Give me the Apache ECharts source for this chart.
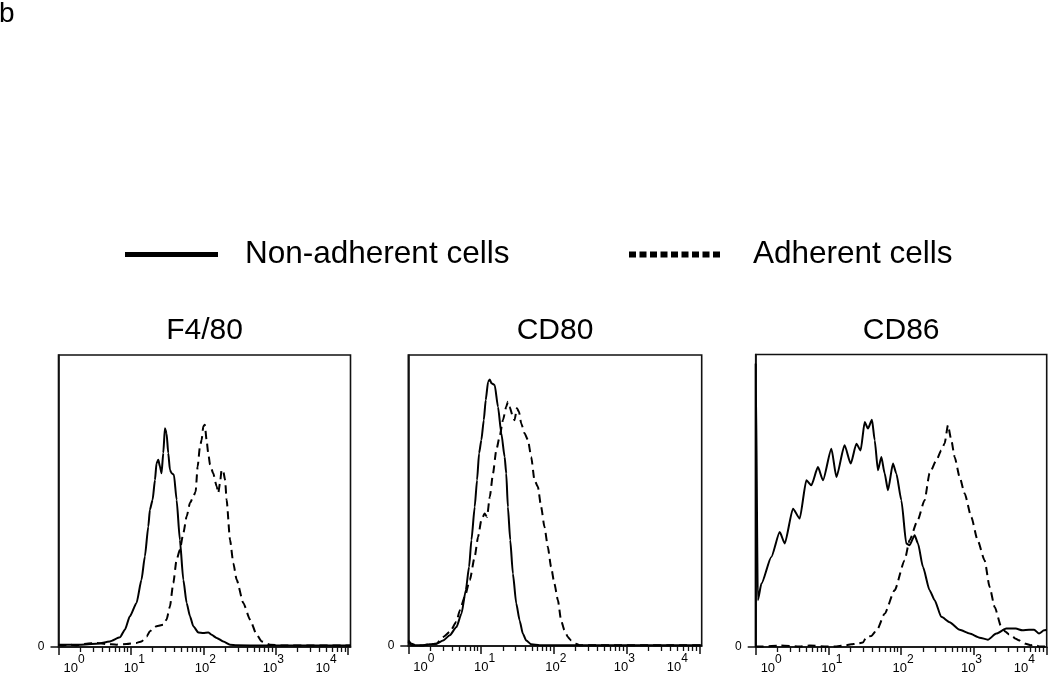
<!DOCTYPE html>
<html><head><meta charset="utf-8">
<script src="https://cdn.jsdelivr.net/npm/echarts@6/dist/echarts.min.js"></script>
<style>html,body{margin:0;padding:0;background:#fff}#c{width:1050px;height:678px}</style>
</head><body><div id="c"></div>
<script>
const PANEL_TITLES = ['F4/80', 'CD80', 'CD86'];
const SERIES_NAMES = ['Non-adherent cells', 'Adherent cells'];
const FIGURE_LABEL = 'b';
const MAJOR_TICKS = [1, 10, 100, 1000, 10000];
const MINOR_TICKS = [2,3,4,5,6,7,8,9,20,30,40,50,60,70,80,90,200,300,400,500,600,700,800,900,2000,3000,4000,5000,6000,7000,8000,9000];
const Y_TICKS = [0];
const X_MAX = [10800, 10800, 10100];

const F480_NON = [[1,0.8],[1.97,0.8],[3.35,1.1],[5.13,1.9],[7.05,3.3],[8.26,5.9],[9.68,10.5],[11.97,15.1],[14.0,23],[15.6,31],[17.4,41.3],[18.3,47],[19.95,50.4],[21.5,57.2],[22.6,62.9],[23.9,64.1],[25.2,61.8],[26.5,59.5],[28.0,66.4],[29.5,74.9],[31.1,73.2],[32.8,66.4],[34.6,60.7],[36.5,59.5],[39.3,59],[42.8,50.4],[47.5,36.7],[53.0,23],[58.9,15.1],[65.5,10.5],[72.8,7.1],[85.3,5],[100,4.8],[117,5],[130,4.2],[153,3.1],[189,1.9],[234,0.8],[289,0.6],[676,0.5],[10800,0.5]];
const F480_ADH = [[1,0.8],[1.16,0.5],[1.44,0.8],[1.77,0.5],[2.44,1.1],[3.35,1.4],[4.61,1.0],[6.34,0.8],[8.71,1.0],[11.97,1.4],[14.0,1.9],[16.5,3.6],[18.3,5.4],[22.6,7.1],[28.0,7.6],[31.1,9.4],[34.6,13.9],[38.5,21.9],[42.8,29.9],[47.5,33.3],[53.0,39.0],[58.9,44.7],[65.5,49.3],[72.8,51.5],[78.3,53.2],[83.6,61.8],[89.9,68.6],[94.8,70.9],[100,75.5],[105,76.1],[111,70.9],[117,66.4],[124,62.4],[137,59.5],[153,55.0],[161,52.7],[170,56.1],[179,60.7],[189,60.1],[200,57.2],[210,50.4],[234,36.7],[260,28.7],[289,23.0],[357,15.1],[442,9.4],[546,4.2],[640,1.9],[836,0.8],[1276,0.5],[10800,0.5]];
const CD80_NON = [[1,1.4],[1.11,0.3],[1.30,0.3],[1.60,0.3],[1.98,0.6],[2.44,0.8],[3.01,1.9],[3.72,3.7],[4.59,6.5],[5.38,11.1],[6.17,19.2],[6.85,27.2],[7.38,36.4],[8.18,47.8],[8.81,57.0],[9.40,66.2],[10.1,70.8],[10.9,77.6],[11.6,84.5],[12.5,90.8],[13.2,91.6],[13.9,90.3],[15.4,89.7],[17.1,82.2],[19.0,73.1],[21.1,65.0],[22.2,59.3],[23.4,47.8],[25.2,36.4],[27.4,24.9],[30.5,14.6],[33.9,8.8],[37.6,4.2],[41.8,1.9],[48.9,0.6],[63.7,0.3],[225,0.3],[10800,0.3]];
const CD80_ADH = [[1,1.9],[1.11,0.8],[1.30,0.2],[1.60,0.2],[1.98,0.6],[2.44,0.8],[3.01,3.1],[3.72,4.8],[4.59,8.3],[5.11,12.3],[5.97,16.9],[7.00,22.6],[8.18,30.6],[9.10,37.5],[10.1,43.2],[11.2,45.5],[12.1,44.4],[13.2,51.3],[14.6,59.3],[16.2,67.3],[18.0,71.9],[20.0,77.6],[22.2,82.2],[23.4,83.9],[24.7,82.2],[27.4,78.8],[28.9,77.6],[31.1,81.7],[33.2,80.5],[35.7,76.5],[39.6,73.1],[44.1,70.8],[48.9,65.0],[54.3,57.0],[60.4,54.7],[67.0,47.8],[74.5,40.9],[82.8,34.1],[91.8,27.2],[102,21.4],[114,15.7],[126,8.8],[140,5.4],[156,3.1],[173,1.9],[202,0.8],[225,0.3],[380,0.3],[10800,0.3]];
const CD86_NON = [[1,0],[1,96.8],[1.07,16.0],[1.2,21.7],[1.64,30.8],[2.14,39.3],[2.51,35.4],[3.26,47.3],[4.03,43.9],[4.98,57.0],[5.83,55.3],[7.19,61.5],[8.43,57.0],[11.0,67.8],[12.9,58.1],[16.7,69.0],[20.3,62.7],[24.3,69.5],[27.8,67.2],[31.6,76.9],[35.1,74.7],[39.8,77.7],[43.4,70.7],[48.1,60.4],[53.6,65.0],[59.4,59.4],[66.1,53.6],[77.4,62.7],[86.1,59.3],[101,50.2],[118,35.4],[131,34.8],[154,38.2],[171,35.4],[200,27.4],[247,19.4],[290,16.0],[358,10.3],[466,8.5],[640,5.9],[879,4.6],[1205,3.2],[1567,2.5],[2046,4.6],[2805,6.3],[3793,6.3],[4677,5.7],[5781,5.9],[6776,5.9],[7925,4.6],[9290,5.7],[10100,5.9]];
const CD86_ADH = [[1,0.2],[1.26,0.2],[2.14,0.5],[4.02,0.2],[5.51,0.5],[9.33,0.2],[12.8,0.2],[17.6,0.6],[20.6,0.9],[24.1,1.1],[29.8,1.5],[33.3,3.4],[39,3.8],[47,6],[59.4,11.4],[81.7,19.4],[112,29.6],[131,36.5],[169,43.3],[211,50.2],[247,59.4],[306,63.8],[358,67.2],[398,69.6],[442,75.8],[492,70.7],[546,65.0],[640,58.1],[750,52.5],[927,44.4],[1132,36.5],[1413,29.6],[1656,20.5],[1941,13.7],[2399,6.8],[2767,5.1],[3069,4.3],[3412,3.6],[3793,2.8],[4217,2.3],[4677,1.5],[5200,1.1],[6095,0.6],[6776,0.9],[7925,0.2],[10100,0.2]];

const PANEL_DATA = [[F480_NON, F480_ADH], [CD80_NON, CD80_ADH], [CD86_NON, CD86_ADH]];

const FONT = 'Liberation Sans, Arial, Helvetica, sans-serif';
const GRIDS = [
  {left: 58.5, top: 355, width: 292, height: 292},
  {left: 408.3, top: 355, width: 293.4, height: 291},
  {left: 755.7, top: 354.5, width: 291, height: 292.5}
];
// horizontal offsets of the decade labels (style only)
const PAD_L = [31, 7, 4, 0, 0];
const PAD_R = [0, 0, 0, 4.5, 44];
const rich = {};
for (let e = 0; e < 5; e++) {
  rich['b' + e] = {fontSize: 13, lineHeight: 12, color: '#000', fontFamily: FONT, padding: [9, 0, 0, PAD_L[e]]};
  rich['s' + e] = {fontSize: 12, lineHeight: 12, color: '#000', fontFamily: FONT, padding: [0, PAD_R[e], 9, 0]};
}

const grid = GRIDS.map(g => Object.assign({show: true, borderColor: '#111', borderWidth: 1.6, backgroundColor: 'transparent', outerBoundsMode: 'none'}, g));
const xAxis = [];
const yAxis = [];
const series = [];
const title = [{text: FIGURE_LABEL, left: -1, top: 0, padding: 0, textStyle: {fontSize: 28, fontWeight: 'normal', color: '#000', fontFamily: FONT}}];
GRIDS.forEach((g, i) => {
  title.push({text: PANEL_TITLES[i], left: g.left + g.width / 2, textAlign: 'center', top: 316, padding: 0,
    textStyle: {fontSize: 30, fontWeight: 'normal', color: '#000', fontFamily: FONT}});
  xAxis.push({type: 'log', logBase: 10, gridIndex: i, min: 1, max: X_MAX[i], position: 'bottom',
    axisLine: {show: true, lineStyle: {color: '#111', width: 1.6}},
    axisTick: {show: true, length: 8, lineStyle: {color: '#111', width: 1.5}, customValues: MAJOR_TICKS},
    minorTick: {show: false},
    splitLine: {show: false},
    axisLabel: {show: true, margin: 11, customValues: MAJOR_TICKS, rich: rich,
      formatter: function (v) { const e = Math.round(Math.log10(v)); return '{b' + e + '|10}{s' + e + '|' + e + '}'; }}
  });
  yAxis.push({type: 'value', gridIndex: i, min: 0, max: 100, position: 'left',
    axisLine: {show: true, lineStyle: {color: '#111', width: 1.6}},
    axisTick: {show: true, length: 8, lineStyle: {color: '#111', width: 1.5}, customValues: Y_TICKS},
    axisLabel: {show: true, margin: 14, customValues: Y_TICKS, color: '#000', fontSize: 12, fontFamily: FONT},
    splitLine: {show: false}
  });
  PANEL_DATA[i].forEach((d, k) => {
    series.push({type: 'line', name: SERIES_NAMES[k], xAxisIndex: i, yAxisIndex: i, data: d,
      symbol: 'none', smooth: 0.2, smoothMonotone: 'x', clip: true, silent: true, animation: false,
      itemStyle: {color: '#000'},
      lineStyle: {color: '#000', width: 2, type: k === 0 ? 'solid' : [8, 5]}});
  });
});
GRIDS.forEach((g, i) => {
  xAxis.push({type: 'log', logBase: 10, gridIndex: i, min: 1, max: X_MAX[i], position: 'bottom', offset: 0,
    axisLine: {show: false, onZero: false},
    axisTick: {show: true, length: 5, lineStyle: {color: '#111', width: 1.3}, customValues: MINOR_TICKS},
    axisLabel: {show: false},
    splitLine: {show: false}
  });
});
let dotPath = 'path://';
for (let j = 0; j < 9; j++) dotPath += 'M' + (j * 10.5) + ',0h7v6h-7z';
const legend = [
  {data: [{name: SERIES_NAMES[0], icon: 'path://M0,0h93v5h-93z'}], left: 125, top: 238.5, padding: 0,
    itemWidth: 93, itemHeight: 5, itemStyle: {color: '#000', borderWidth: 0}, selectedMode: false,
    textStyle: {fontSize: 31.5, color: '#000', fontFamily: FONT, padding: [0, 0, 0, 22]}},
  {data: [{name: SERIES_NAMES[1], icon: dotPath}], left: 629, top: 238.5, padding: 0,
    itemWidth: 91, itemHeight: 6, itemStyle: {color: '#000', borderWidth: 0}, selectedMode: false,
    textStyle: {fontSize: 31.5, color: '#000', fontFamily: FONT, padding: [0, 0, 0, 28]}}
];
const chart = echarts.init(document.getElementById('c'), null, {renderer: 'canvas'});
chart.setOption({animation: false, backgroundColor: '#fff', title, legend, grid, xAxis, yAxis, series});
</script></body></html>
